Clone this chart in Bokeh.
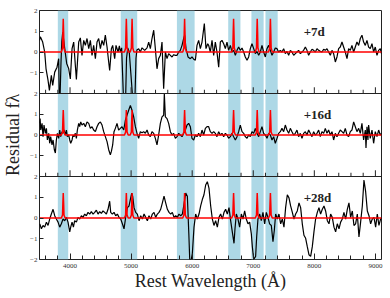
from bokeh.plotting import figure
from bokeh.models import Range1d, FixedTicker, SingleIntervalTicker, Span
from bokeh.embed import file_html
from bokeh.resources import INLINE
from bokeh.core.properties import value

# ---------------- data ----------------
panel_labels = ["+7d", "+16d", "+28d"]

band_left = [3800, 4830, 5750, 6590, 6970, 7200]
band_right = [3970, 5100, 6040, 6790, 7170, 7400]

line_centers = [3889, 4922, 5016, 5876, 6678, 7065, 7281]
peak_heights = [1.6, 1.2, 1.2]
profile_offsets = [-30, -12, -6, 0, 6, 12, 30]
profile_fracs = [0.0, 0.12, 0.6, 1.0, 0.6, 0.12, 0.0]

wave_7d = [3500, 3514, 3552, 3585, 3607, 3640, 3662, 3694, 3716, 3749, 3787, 3814, 3822, 3838,
           3852, 3865, 3880, 3895, 3912, 3945, 3978, 4005, 4033, 4060, 4087, 4104, 4142, 4169,
           4196, 4224, 4251, 4278, 4306, 4333, 4360, 4387, 4415, 4442, 4469, 4497, 4524, 4551,
           4578, 4606, 4633, 4649, 4677, 4698, 4731, 4753, 4786, 4808, 4824, 4845, 4860, 4872,
           4912, 4925, 4945, 4970, 4995, 5020, 5065, 5080, 5095, 5124, 5151, 5179, 5222, 5261,
           5288, 5315, 5342, 5370, 5397, 5424, 5451, 5479, 5506, 5533, 5561, 5588, 5615, 5643,
           5670, 5697, 5725, 5752, 5779, 5806, 5834, 5861, 5877, 5899, 5932, 5970, 5997, 6025,
           6052, 6079, 6106, 6134, 6161, 6199, 6226, 6254, 6270, 6297, 6325, 6352, 6379, 6406,
           6434, 6461, 6488, 6516, 6543, 6570, 6597, 6625, 6652, 6679, 6707, 6734, 6761, 6788,
           6816, 6843, 6870, 6898, 6925, 6952, 6979, 7007, 7034, 7061, 7089, 7116, 7143, 7170,
           7198, 7225, 7252, 7280, 7307, 7334, 7361, 7389, 7416, 7443, 7470, 7498, 7525, 7552,
           7580, 7607, 7634, 7662, 7689, 7716, 7743, 7771, 7798, 7825, 7853, 7880, 7907, 7934,
           7962, 7989, 8016, 8044, 8071, 8098, 8125, 8153, 8180, 8207, 8234, 8262, 8289, 8316,
           8344, 8371, 8398, 8425, 8453, 8480, 8507, 8535, 8562, 8589, 8616, 8644, 8671, 8698,
           8726, 8753, 8780, 8807, 8835, 8862, 8889, 8916, 8944, 8971, 8998, 9026, 9053, 9080,
           9100]
resid_7d = [0.56, 0.73, 0.48, 0.0, -0.81, -1.37, -1.85, -1.13, -1.61, -0.97, -0.73, -0.32, -2.0, -2.0,
            -0.5, 0.5, 0.95, 0.6, 0.2, -0.55, -0.8, -1.3, 0.16, 0.48, -0.65, -1.32, 0.48, 0.68,
            -0.16, 0.56, 0.32, 0.65, 0.16, 0.56, -0.16, 0.32, -0.32, 0.48, 0.65, 0.16, 0.56, 0.32,
            0.81, 0.24, -0.48, -0.89, 0.16, 0.32, -0.32, 0.32, 0.0, 0.3, 0.0, 0.2, -1.0, -2.0,
            -2.0, -0.3, 0.2, 0.0, -1.0, -2.0, -2.0, -0.3, 0.1, 0.16, 0.0, 0.2, 0.08, 0.2,
            0.48, 0.16, 0.65, 1.05, 0.16, -0.81, -0.32, -0.16, 0.48, -1.77, 0.0, -0.32, -0.08, -0.16,
            -0.24, -0.13, -0.16, -0.16, 0.0, 0.08, 0.32, 0.65, 0.81, 0.16, -0.24, -0.32, -0.24, -0.35,
            -0.4, 0.32, 0.56, 0.16, 0.48, 1.37, 0.16, 0.4, 0.32, 0.0, 0.56, -0.16, 0.48, 0.0,
            -0.73, 0.48, 0.56, 0.4, 0.16, 0.48, 0.08, 0.32, 0.0, 0.08, -0.16, 0.08, 0.24, 0.08,
            0.19, 0.0, -0.24, -0.4, -0.24, 0.16, 0.4, 0.16, -0.08, 0.03, -0.16, 0.0, 0.32, 0.0,
            -0.24, 0.16, 0.32, 0.08, -0.16, 0.0, 0.19, 0.16, 0.0, 0.08, 0.0, 0.16, -0.08, 0.03,
            -0.16, 0.08, 0.0, -0.16, -0.08, 0.0, 0.08, -0.08, 0.0, 0.08, 0.24, 0.08, -0.16, 0.0,
            0.13, 0.08, 0.0, 0.16, 0.08, 0.03, 0.0, 0.13, 0.08, 0.16, 0.0, -0.16, 0.08, -0.08,
            -0.48, -0.24, 0.16, 0.24, 0.48, 0.24, 0.0, -0.32, 0.16, 0.08, 0.32, 0.0, 0.24, 0.48,
            0.32, 0.65, 0.81, 0.48, 0.32, 0.56, 0.24, 0.16, 0.4, 0.0, 0.24, -0.16, 0.08, 0.16,
            -0.08]

wave_16d = [3500, 3510, 3520, 3542, 3558, 3574, 3596, 3613, 3629, 3651, 3667, 3683, 3705, 3722,
            3743, 3760, 3776, 3793, 3814, 3831, 3847, 3869, 3885, 3902, 3924, 3940, 3956, 3978,
            3995, 4011, 4033, 4049, 4065, 4087, 4104, 4120, 4142, 4158, 4175, 4196, 4224, 4251,
            4278, 4306, 4333, 4360, 4387, 4415, 4442, 4469, 4497, 4524, 4551, 4578, 4606, 4633,
            4660, 4677, 4698, 4720, 4742, 4769, 4796, 4824, 4851, 4879, 4906, 4933, 4960, 4988,
            5015, 5042, 5070, 5097, 5124, 5151, 5179, 5206, 5233, 5261, 5288, 5315, 5342, 5370,
            5397, 5424, 5451, 5479, 5506, 5533, 5544, 5561, 5588, 5615, 5643, 5670, 5697, 5725,
            5752, 5779, 5806, 5834, 5861, 5888, 5916, 5943, 5970, 5997, 6025, 6052, 6079, 6106,
            6134, 6161, 6188, 6216, 6243, 6270, 6297, 6325, 6352, 6379, 6406, 6434, 6461, 6488,
            6516, 6543, 6570, 6597, 6625, 6652, 6679, 6707, 6734, 6761, 6788, 6816, 6843, 6870,
            6898, 6925, 6952, 6979, 7007, 7034, 7061, 7089, 7116, 7143, 7170, 7198, 7225, 7252,
            7280, 7307, 7334, 7361, 7389, 7416, 7443, 7470, 7498, 7525, 7552, 7580, 7607, 7634,
            7662, 7689, 7716, 7743, 7771, 7798, 7825, 7853, 7880, 7907, 7934, 7962, 7989, 8016,
            8044, 8071, 8098, 8125, 8153, 8180, 8207, 8234, 8262, 8289, 8316, 8344, 8371, 8398,
            8425, 8453, 8480, 8507, 8535, 8562, 8589, 8616, 8644, 8671, 8698, 8726, 8753, 8780,
            8807, 8835, 8846, 8862, 8878, 8889, 8916, 8944, 8971, 8998, 9026, 9053, 9080, 9100]
resid_16d = [0.56, 0.79, 0.24, 0.56, -0.08, 0.48, 0.08, 0.32, -0.24, 0.08, -0.4, -0.08, -0.48, -0.24,
             -0.71, -0.87, -0.24, 0.08, -0.16, 0.24, -0.08, 0.16, 0.08, 0.24, 0.0, 0.24, -0.08, 0.0,
             -0.24, -0.4, -0.24, 0.0, -0.08, 0.08, -0.16, 0.24, 0.56, 0.4, 0.63, 0.48, 0.56, 0.4,
             0.63, 0.56, 0.32, 0.4, 0.24, 0.16, 0.4, 0.56, 0.63, 0.48, 0.16, -0.08, -0.32, -0.71,
             -0.95, -0.79, -0.48, 0.16, 0.32, 0.56, 0.24, 0.32, 0.4, 0.24, 0.71, 0.95, 1.19, 1.43,
             1.19, 0.87, 0.4, 0.08, -0.16, 0.16, 0.11, 0.16, 0.08, 0.24, 0.0, -0.08, 0.16, 0.08,
             -0.16, -0.48, 0.0, 0.56, 0.87, 0.95, 2.0, 0.87, 0.79, 0.56, 0.16, 0.0, 0.08, -0.16,
             -0.08, 0.08, 0.0, -0.08, 0.08, 0.24, 0.48, 0.56, 0.4, -0.16, -0.24, 0.0, -0.08, 0.08,
             -0.08, 0.24, 0.0, 0.32, 0.4, 0.4, 0.16, 0.08, 0.16, 0.08, -0.08, 0.16, 0.0, 0.08,
             -0.08, 0.08, 0.0, -0.16, -0.08, 0.08, -0.08, -0.24, -0.08, 0.16, 0.48, 0.16, 0.08, -0.08,
             -0.16, 0.0, -0.08, 0.16, 0.08, 0.32, 0.08, -0.08, 0.16, 0.4, 0.08, 0.0, -0.16, 0.08,
             0.0, -0.24, -0.08, -0.4, -0.16, 0.08, 0.16, 0.32, 0.16, 0.48, 0.24, 0.08, 0.32, 0.16,
             0.0, 0.08, 0.24, -0.08, 0.08, -0.16, 0.08, 0.16, 0.0, 0.24, 0.08, -0.08, 0.16, 0.0,
             0.08, 0.24, -0.08, 0.16, 0.08, 0.32, 0.08, 0.24, 0.0, 0.16, -0.24, 0.08, -0.08, 0.08,
             0.24, 0.16, 0.08, 0.32, 0.0, -0.08, 0.16, 0.24, 0.63, 0.4, 0.16, 0.32, 0.08, 0.56,
             -0.24, 0.24, -0.63, 0.4, -0.24, 0.48, -0.16, 0.24, -0.4, 0.16, -0.08, 0.24, 0.0, 0.08]

wave_28d = [3505, 3531, 3558, 3585, 3613, 3640, 3667, 3694, 3722, 3749, 3776, 3804, 3831, 3858,
            3885, 3913, 3940, 3967, 3995, 4011, 4033, 4055, 4076, 4104, 4131, 4158, 4186, 4213,
            4240, 4267, 4295, 4322, 4349, 4377, 4404, 4431, 4458, 4486, 4513, 4540, 4568, 4595,
            4622, 4649, 4666, 4693, 4720, 4748, 4775, 4802, 4830, 4857, 4884, 4911, 4939, 4966,
            4993, 5010, 5026, 5048, 5075, 5102, 5130, 5157, 5184, 5212, 5239, 5266, 5293, 5321,
            5348, 5375, 5402, 5430, 5457, 5484, 5512, 5539, 5566, 5594, 5621, 5648, 5675, 5703,
            5730, 5757, 5784, 5812, 5839, 5866, 5894, 5921, 5945, 5960, 5985, 6003, 6030, 6057,
            6084, 6112, 6139, 6166, 6193, 6221, 6248, 6275, 6303, 6330, 6357, 6384, 6412, 6439,
            6466, 6494, 6521, 6548, 6575, 6603, 6630, 6657, 6685, 6701, 6723, 6750, 6777, 6805,
            6832, 6859, 6886, 6914, 6941, 6968, 6985, 7007, 7039, 7056, 7077, 7105, 7132, 7159,
            7187, 7214, 7241, 7268, 7296, 7323, 7345, 7367, 7394, 7421, 7449, 7476, 7503, 7530,
            7558, 7585, 7612, 7640, 7667, 7694, 7721, 7749, 7776, 7803, 7830, 7858, 7885, 7912,
            7940, 7967, 7994, 8021, 8049, 8076, 8103, 8131, 8158, 8185, 8213, 8240, 8267, 8294,
            8322, 8349, 8376, 8404, 8431, 8458, 8485, 8513, 8540, 8567, 8595, 8622, 8649, 8676,
            8704, 8731, 8758, 8786, 8813, 8840, 8868, 8895, 8922, 8949, 8977, 9004, 9031, 9058,
            9085, 9100]
resid_28d = [-0.28, -0.52, -0.36, -0.44, -0.2, -0.36, -0.05, 0.19, 0.42, 0.11, -0.05, -0.2, -0.44, -0.28,
             -0.05, -0.13, 0.03, -0.2, -0.67, -0.44, -0.2, -0.44, -0.13, -0.2, 0.03, -0.05, 0.11, 0.03,
             0.19, 0.11, 0.27, 0.19, 0.31, 0.19, 0.27, 0.38, 0.19, 0.31, 0.22, 0.34, 0.27, 0.19,
             0.42, 0.81, 0.27, 0.19, 0.27, 0.11, 0.19, 0.03, -0.05, -0.28, -0.52, 0.03, 0.5, 0.58,
             0.97, 1.2, 1.05, 0.5, 0.27, 0.19, -0.13, 0.11, -0.05, 0.19, 0.03, -0.13, 0.11, -0.05,
             0.19, 0.27, 0.03, 0.19, 0.27, 0.42, 0.73, 1.05, 0.73, 0.42, 0.27, 0.19, 0.27, 0.03,
             0.11, 0.03, 0.19, 0.11, 0.19, 0.66, 1.2, 1.05, -0.75, -2.0, -2.0, -1.7, -0.44, 0.19,
             -0.05, 0.19, 0.58, 0.89, 1.12, 1.59, 1.75, 1.44, 0.58, -0.05, -0.36, -0.13, -0.44, 0.03,
             0.19, -0.05, 0.27, 0.42, 0.19, 0.5, -0.13, -0.67, -1.22, -0.52, 0.19, -0.05, -0.44, 0.19,
             -0.05, 0.34, -0.05, -0.28, -0.2, -0.75, -1.38, -2.0, -1.85, -0.91, -0.05, 0.19, -0.13, 0.27,
             -0.28, 0.27, 0.03, -0.28, -0.36, -1.14, -0.59, 0.19, -0.05, 0.19, -0.28, -0.05, -0.44, 0.5,
             1.12, 0.97, 0.58, 0.27, -0.05, 0.19, 0.34, 0.73, 0.5, -0.28, -0.83, -0.98, -1.38, -1.77,
             -1.85, -1.38, -0.67, -0.05, 0.27, 0.5, 0.19, 0.42, 0.58, 0.34, -0.13, -0.28, 0.19, 0.03,
             -0.44, -0.67, -0.28, -0.52, -0.2, -0.05, 0.27, -0.05, 0.42, 0.73, 0.03, 0.34, -0.36, -0.28,
             0.19, -0.91, -0.2, 0.58, 1.83, 1.28, 0.34, 0.11, -0.28, -0.05, 0.03, -0.44, 0.19, -0.36,
             -0.05, 0.0]

y_tick_labels = ["\u22122", "\u22121", "0", "1", "2"]

# ---------------- figure ----------------
X0, X1 = 3500, 9100
panels = [(wave_7d, resid_7d), (wave_16d, resid_16d), (wave_28d, resid_28d)]
offsets = [8, 4, 0]

p = figure(frame_width=342, frame_height=249,
           x_range=Range1d(X0, X1), y_range=Range1d(-2, 10),
           output_backend="svg", toolbar_location=None,
           min_border_left=39, min_border_top=10, min_border_right=5, min_border_bottom=28,
           background_fill_color="white", border_fill_color="white")
p.xgrid.visible = False
p.ygrid.visible = False
p.outline_line_color = "#222222"
p.outline_line_width = 1

# shaded bands
p.quad(left=band_left, right=band_right, bottom=-2, top=10,
       fill_color="#add8e6", line_color=None)

# residual spectra
for (w, r), off in zip(panels, offsets):
    p.line(w, [v + off for v in r], line_color="black", line_width=1.2)

# red template lines
for h, off in zip(peak_heights, offsets):
    xs, ys = [X0], [off]
    for c in line_centers:
        for o, f in zip(profile_offsets, profile_fracs):
            xs.append(c + o)
            ys.append(off + f * h)
    xs.append(X1)
    ys.append(off)
    p.line(xs, ys, line_color="red", line_width=1.5)

# panel separators with inward ticks
for sep in [2, 6]:
    p.add_layout(Span(location=sep, dimension="width", line_color="#222222", line_width=1))
    maj = list(range(4000, 9001, 1000))
    mnr = [t for t in range(3600, 9100, 200) if t % 1000 != 0]
    p.segment(x0=maj, x1=maj, y0=[sep] * len(maj), y1=[sep + 0.3] * len(maj),
              line_color="#222222", line_width=1)
    p.segment(x0=mnr, x1=mnr, y0=[sep] * len(mnr), y1=[sep + 0.18] * len(mnr),
              line_color="#222222", line_width=1)

# panel labels
p.text(x=[7825] * 3, y=[1.0 + o for o in offsets], text=panel_labels,
       text_font=value("Liberation Serif"), text_font_style="bold",
       text_font_size="13px", text_baseline="alphabetic", text_color="#222222")

# axes
serif = "Liberation Serif"
p.xaxis.ticker = SingleIntervalTicker(interval=1000, num_minor_ticks=5)
p.xaxis.major_tick_in = 6
p.xaxis.major_tick_out = 0
p.xaxis.minor_tick_in = 4
p.xaxis.minor_tick_out = 0
p.xaxis.axis_label = "Rest Wavelength (\u00c5)"

yt = list(range(-2, 11))
p.yaxis.ticker = FixedTicker(ticks=yt)
p.yaxis.major_label_overrides = {t: y_tick_labels[(t + 2) % 4 if t not in (2, 6, 10) else 4] for t in yt}
p.yaxis.major_tick_in = 4
p.yaxis.major_tick_out = 0
p.yaxis.minor_tick_line_color = None
p.yaxis.axis_label = "Residual f\u03bb"

for ax in [p.xaxis[0], p.yaxis[0]]:
    ax.axis_line_color = None
    ax.major_tick_line_color = "#222222"
    ax.minor_tick_line_color = "#222222" if ax is p.xaxis[0] else None
    ax.major_label_text_font = serif
    ax.major_label_text_font_size = "7px"
    ax.major_label_text_color = "#333333"
    ax.axis_label_text_font = serif
    ax.axis_label_text_font_size = "18px"
    ax.axis_label_text_font_style = "normal"
    ax.axis_label_text_color = "#222222"

p.xaxis.major_label_standoff = 4
p.xaxis.axis_label_standoff = 0
p.yaxis.major_label_standoff = 2
p.yaxis.axis_label_standoff = 4

open("out.html", "w").write(file_html(p, INLINE))
